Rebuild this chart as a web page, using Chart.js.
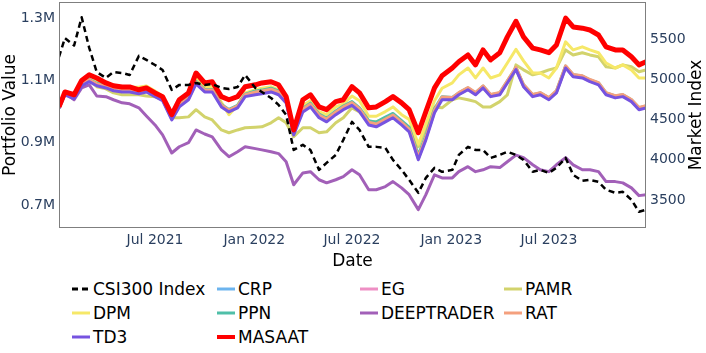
<!DOCTYPE html>
<html>
<head>
<meta charset="utf-8">
<script src="https://cdn.jsdelivr.net/npm/chart.js@4.4.0/dist/chart.umd.min.js"></script>
<style>
  html, body { margin: 0; padding: 0; background: #fff; }
  #wrap { position: relative; width: 706px; height: 353px; font-family: "DejaVu Sans", sans-serif; }
  #box { position: absolute; left: 0; top: 0; width: 706px; height: 272px; }
  .item { position: absolute; height: 24px; line-height: 24px; font-size: 17px; color: #000; white-space: nowrap; }
  .item svg { position: absolute; left: 0; top: 0; }
  .item span { position: absolute; left: 21px; top: 0; }
</style>
</head>
<body>
<div id="wrap">
  <div id="box"><canvas id="chart" width="706" height="272"></canvas></div>
  <div id="legend"></div>
</div>
<script>
// semi-monthly samples
const dates = [
  '2021-01-04','2021-01-15','2021-02-01','2021-02-15','2021-03-01','2021-03-15','2021-04-01','2021-04-15','2021-05-01','2021-05-15','2021-06-01','2021-06-15',
  '2021-07-01','2021-07-15','2021-08-01','2021-08-15','2021-09-01','2021-09-15','2021-10-01','2021-10-15','2021-11-01','2021-11-15','2021-12-01','2021-12-15',
  '2022-01-03','2022-01-15','2022-02-01','2022-02-15','2022-03-01','2022-03-15','2022-04-01','2022-04-15','2022-05-01','2022-05-15','2022-06-01','2022-06-15',
  '2022-07-01','2022-07-15','2022-08-01','2022-08-15','2022-09-01','2022-09-15','2022-10-01','2022-10-15','2022-11-01','2022-11-15','2022-12-01','2022-12-15',
  '2023-01-03','2023-01-15','2023-02-01','2023-02-15','2023-03-01','2023-03-15','2023-04-01','2023-04-15','2023-05-01','2023-05-15','2023-06-01','2023-06-15',
  '2023-07-01','2023-07-15','2023-08-01','2023-08-15','2023-09-01','2023-09-15','2023-10-01','2023-10-15','2023-11-01','2023-11-15','2023-12-01','2023-12-15',
  '2023-12-28'
];

// market index (right axis)
const csi300 = [
  5277,5512,5420,5770,5390,5090,5016,5090,5078,5053,5290,5240,
  5177,5115,4867,4930,4930,4954,4930,4942,4892,4880,4904,5053,
  4892,4842,4768,4681,4557,4122,4185,4122,3874,3961,4060,4247,
  4470,4371,4160,4160,4147,3998,3874,3750,3589,3775,3899,3850,
  3874,4060,4160,4122,4122,4023,4060,4098,4060,3998,3850,3874,
  3837,3899,4023,3812,3738,3750,3726,3626,3589,3601,3502,3353,
  3378
];

// portfolio values in millions (left axis)
const crp = [
  1.014,1.058,1.045,1.087,1.100,1.087,1.080,1.071,1.067,1.067,1.061,1.067,
  1.052,1.039,0.977,1.019,1.042,1.093,1.067,1.067,1.019,1.003,1.016,1.052,
  1.060,1.063,1.069,1.060,1.034,0.931,1.005,1.021,0.986,0.973,0.996,1.012,
  1.026,1.006,0.963,0.957,0.973,0.986,0.963,0.941,0.851,0.915,1.002,1.044,
  1.041,1.057,1.073,1.057,1.079,1.051,1.057,1.095,1.138,1.083,1.051,1.057,
  1.041,1.063,1.143,1.115,1.111,1.099,1.089,1.057,1.047,1.051,1.035,1.009,
  1.015
];
const eg = [
  1.013,1.057,1.044,1.086,1.099,1.086,1.079,1.070,1.066,1.066,1.060,1.066,
  1.051,1.038,0.976,1.018,1.041,1.092,1.066,1.066,1.018,1.002,1.015,1.051,
  1.058,1.061,1.067,1.058,1.032,0.929,1.003,1.019,0.984,0.971,0.994,1.010,
  1.024,1.004,0.961,0.955,0.971,0.984,0.961,0.939,0.849,0.913,1.000,1.042,
  1.040,1.056,1.072,1.056,1.078,1.050,1.056,1.094,1.137,1.082,1.050,1.056,
  1.040,1.062,1.142,1.114,1.110,1.098,1.088,1.056,1.046,1.050,1.034,1.008,
  1.014
];
const pamr = [
  1.010,1.055,1.045,1.090,1.100,1.080,1.073,1.060,1.054,1.054,1.054,1.050,
  1.048,1.038,0.980,0.980,0.983,1.006,0.983,0.973,0.941,0.932,0.941,0.948,
  0.950,0.951,0.964,0.980,0.964,0.919,0.948,0.948,0.932,0.935,0.964,0.980,
  1.012,0.999,0.967,0.967,0.980,0.990,0.967,0.948,0.887,0.948,1.015,1.012,
  1.038,1.044,1.038,1.032,1.015,1.015,1.032,1.054,1.150,1.134,1.118,1.124,
  1.134,1.140,1.198,1.182,1.189,1.182,1.176,1.144,1.140,1.150,1.144,1.128,
  1.134
];
const dpm = [
  1.010,1.060,1.050,1.100,1.118,1.100,1.090,1.080,1.075,1.078,1.078,1.082,
  1.066,1.050,0.985,1.025,1.050,1.110,1.080,1.080,1.030,0.990,1.020,1.060,
  1.070,1.075,1.080,1.070,1.035,0.935,1.020,1.035,1.000,0.990,1.015,1.025,
  1.050,1.035,0.985,0.985,1.000,1.015,0.990,0.975,0.895,0.960,1.035,1.075,
  1.092,1.118,1.140,1.108,1.140,1.108,1.118,1.156,1.200,1.163,1.124,1.124,
  1.108,1.140,1.224,1.198,1.208,1.198,1.189,1.156,1.140,1.150,1.134,1.108,
  1.108
];
const ppn = [
  1.018,1.062,1.049,1.091,1.104,1.091,1.084,1.075,1.071,1.071,1.065,1.071,
  1.056,1.043,0.981,1.023,1.046,1.097,1.071,1.071,1.023,1.007,1.020,1.056,
  1.066,1.069,1.075,1.066,1.040,0.937,1.011,1.027,0.992,0.979,1.002,1.018,
  1.032,1.012,0.971,0.966,0.982,0.994,0.971,0.950,0.860,0.923,1.009,1.048,
  1.045,1.060,1.076,1.060,1.082,1.054,1.060,1.098,1.141,1.086,1.054,1.060,
  1.044,1.066,1.146,1.118,1.114,1.102,1.092,1.060,1.050,1.054,1.038,1.012,
  1.018
];
const deeptrader = [
  1.020,1.060,1.038,1.076,1.086,1.050,1.048,1.038,1.028,1.025,1.012,0.986,
  0.957,0.925,0.867,0.887,0.900,0.941,0.928,0.919,0.877,0.855,0.871,0.887,
  0.881,0.877,0.871,0.865,0.839,0.765,0.803,0.807,0.781,0.771,0.781,0.791,
  0.813,0.797,0.749,0.749,0.759,0.775,0.755,0.733,0.685,0.733,0.797,0.787,
  0.787,0.807,0.823,0.807,0.813,0.823,0.820,0.839,0.860,0.852,0.829,0.813,
  0.807,0.829,0.852,0.829,0.813,0.813,0.807,0.775,0.775,0.771,0.755,0.730,
  0.733
];
const rat = [
  1.016,1.060,1.047,1.089,1.102,1.089,1.082,1.073,1.069,1.069,1.063,1.069,
  1.054,1.041,0.979,1.021,1.044,1.095,1.069,1.069,1.021,1.005,1.018,1.054,
  1.063,1.066,1.072,1.063,1.037,0.934,1.008,1.024,0.989,0.976,0.999,1.015,
  1.029,1.009,0.966,0.960,0.976,0.989,0.966,0.944,0.854,0.918,1.005,1.047,
  1.045,1.061,1.077,1.061,1.083,1.055,1.061,1.099,1.142,1.087,1.055,1.061,
  1.045,1.067,1.147,1.119,1.115,1.103,1.093,1.061,1.051,1.055,1.039,1.013,
  1.019
];
const td3 = [
  1.010,1.054,1.041,1.083,1.096,1.083,1.076,1.067,1.063,1.063,1.057,1.063,
  1.048,1.035,0.973,1.015,1.038,1.089,1.063,1.063,1.015,0.999,1.012,1.048,
  1.054,1.057,1.063,1.054,1.028,0.925,0.999,1.015,0.980,0.967,0.990,1.006,
  1.020,1.000,0.957,0.951,0.967,0.980,0.957,0.935,0.845,0.909,0.996,1.038,
  1.038,1.054,1.070,1.054,1.076,1.048,1.054,1.092,1.135,1.080,1.048,1.054,
  1.038,1.060,1.140,1.112,1.108,1.096,1.086,1.054,1.044,1.048,1.032,1.006,
  1.012
];
const masaat = [
  1.015,1.063,1.054,1.100,1.118,1.108,1.092,1.083,1.079,1.079,1.070,1.076,
  1.060,1.048,0.990,1.038,1.060,1.124,1.092,1.096,1.048,1.038,1.048,1.080,
  1.086,1.092,1.096,1.086,1.048,0.941,1.038,1.054,1.015,1.006,1.032,1.038,
  1.080,1.060,1.012,1.015,1.032,1.048,1.028,1.006,0.932,1.000,1.076,1.115,
  1.140,1.160,1.182,1.150,1.198,1.166,1.189,1.240,1.290,1.240,1.204,1.198,
  1.189,1.214,1.300,1.272,1.268,1.262,1.246,1.208,1.198,1.198,1.176,1.150,
  1.160
];

const xTickDates = ['2021-07-01', '2022-01-01', '2022-07-01', '2023-01-01', '2023-07-01'];
const xTickLabels = ['Jul 2021', 'Jan 2022', 'Jul 2022', 'Jan 2023', 'Jul 2023'];
const leftTicks = [0.7, 0.9, 1.1, 1.3];
const rightTicks = [3500, 4000, 4500, 5000, 5500];

const FONT = '"DejaVu Sans", sans-serif';
const TICK = '#2a3f5f';

const xs = dates.map(d => Date.parse(d));
const pts = arr => arr.map((v, i) => ({ x: xs[i], y: v }));

// legend order / draw order (lower order = on top)
const series = [
  { label: 'CSI300 Index', data: csi300, color: '#000000', axis: 'y1', width: 2.5, dash: [6, 4], order: 0 },
  { label: 'CRP', data: crp, color: '#6cb4ee', axis: 'y', width: 3, order: 9 },
  { label: 'EG', data: eg, color: '#ee8fc4', axis: 'y', width: 3, order: 8 },
  { label: 'PAMR', data: pamr, color: '#d2d36c', axis: 'y', width: 3, order: 7 },
  { label: 'DPM', data: dpm, color: '#f6e868', axis: 'y', width: 3, order: 6 },
  { label: 'PPN', data: ppn, color: '#4fbfa8', axis: 'y', width: 3, order: 5 },
  { label: 'DEEPTRADER', data: deeptrader, color: '#a260b8', axis: 'y', width: 3, order: 4 },
  { label: 'RAT', data: rat, color: '#f4a07e', axis: 'y', width: 3, order: 3 },
  { label: 'TD3', data: td3, color: '#7653e0', axis: 'y', width: 3, order: 2 },
  { label: 'MASAAT', data: masaat, color: '#ff0000', axis: 'y', width: 5, order: 1 }
];

const frame = {
  id: 'frame',
  afterDraw(chart) {
    const { ctx, chartArea: a } = chart;
    ctx.save();
    ctx.strokeStyle = '#7f7f7f';
    ctx.lineWidth = 1;
    ctx.strokeRect(a.left + 0.5, a.top + 0.5, a.right - a.left - 1, a.bottom - a.top - 1);
    // right axis title, reading upwards like the left one
    ctx.translate(697, (a.top + a.bottom) / 2);
    ctx.rotate(-Math.PI / 2);
    ctx.fillStyle = '#000';
    ctx.font = '17px ' + FONT;
    ctx.textAlign = 'center';
    ctx.textBaseline = 'middle';
    ctx.fillText('Market Index', 0, 0);
    ctx.restore();
  }
};

const noPad = s => { s.paddingTop = 0; s.paddingBottom = 0; s.paddingLeft = 0; s.paddingRight = 0; };

new Chart(document.getElementById('chart'), {
  type: 'line',
  data: {
    datasets: series.map(s => ({
      label: s.label,
      data: pts(s.data),
      yAxisID: s.axis,
      borderColor: s.color,
      backgroundColor: s.color,
      borderWidth: s.width,
      borderDash: s.dash || [],
      borderJoinStyle: 'round',
      pointRadius: 0,
      tension: 0,
      order: s.order
    }))
  },
  options: {
    responsive: false,
    animation: false,
    devicePixelRatio: 1,
    layout: { padding: { top: 2, left: 0, right: 0, bottom: 0 } },
    plugins: { legend: { display: false }, tooltip: { enabled: false } },
    scales: {
      x: {
        type: 'linear',
        min: Date.parse('2021-01-04'),
        max: Date.parse('2023-12-28'),
        grid: { display: false, drawTicks: false },
        border: { display: false },
        afterBuildTicks: s => { s.ticks = xTickDates.map(d => ({ value: Date.parse(d) })); },
        afterFit: s => { s.height = 44; noPad(s); },
        ticks: {
          color: TICK, font: { family: FONT, size: 14 }, padding: 4, maxRotation: 0,
          callback: (v, i) => xTickLabels[i]
        },
        title: { display: true, text: 'Date', color: '#000', font: { family: FONT, size: 17 }, padding: { top: 0, bottom: 0 } }
      },
      y: {
        position: 'left',
        min: 0.626,
        max: 1.352,
        grid: { display: false, drawTicks: false },
        border: { display: false },
        afterBuildTicks: s => { s.ticks = leftTicks.map(v => ({ value: v })); },
        afterFit: s => { s.width = 59; noPad(s); },
        ticks: { color: TICK, font: { family: FONT, size: 14 }, padding: 4, callback: v => v.toFixed(1) + 'M' },
        title: { display: true, text: 'Portfolio Value', color: '#000', font: { family: FONT, size: 17 }, padding: { top: 0, bottom: 0 } }
      },
      y1: {
        position: 'right',
        min: 3152,
        max: 5960,
        grid: { display: false, drawTicks: false },
        border: { display: false },
        afterBuildTicks: s => { s.ticks = rightTicks.map(v => ({ value: v })); },
        afterFit: s => { s.width = 60; noPad(s); },
        ticks: { color: TICK, font: { family: FONT, size: 14 }, padding: 4, callback: v => String(v) }
      }
    }
  },
  plugins: [frame]
});

// legend: 4 columns, row-major like the original
const colX = [72, 217, 360, 504];
const rowY = [289, 313, 337];
const legend = document.getElementById('legend');
series.forEach((s, i) => {
  const div = document.createElement('div');
  div.className = 'item';
  div.style.left = colX[i % 4] + 'px';
  div.style.top = (rowY[Math.floor(i / 4)] - 12) + 'px';
  const dash = s.dash ? ' stroke-dasharray="' + s.dash.join(',') + '"' : '';
  div.innerHTML = '<svg width="18" height="24"><line x1="0" y1="12" x2="18" y2="12" stroke="' + s.color +
    '" stroke-width="' + (s.width > 3 ? 4 : 3) + '"' + dash + '/></svg><span>' + s.label + '</span>';
  legend.appendChild(div);
});
</script>
</body>
</html>
